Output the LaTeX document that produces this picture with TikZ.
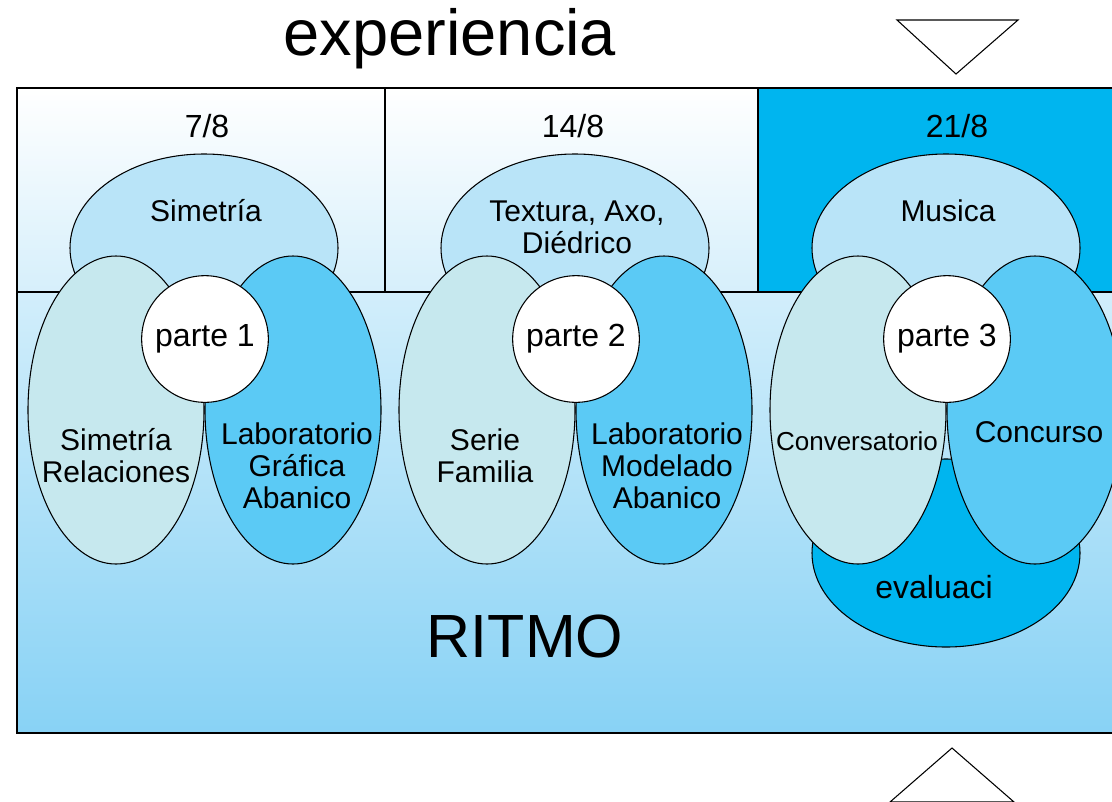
\documentclass[tikz,border=0pt]{standalone}
\usepackage{fontspec}
\setmainfont{Liberation Sans}
\usepackage{xcolor}
\usepackage{tikz}
\usetikzlibrary{positioning, shapes.geometric}

\definecolor{cellbot}{HTML}{D6EFFB}
\definecolor{basetop}{HTML}{D2EEFB}
\definecolor{basebot}{HTML}{88D2F5}
\definecolor{temafill}{HTML}{B9E4F8}
\definecolor{palefill}{HTML}{C6E8EE}
\definecolor{bluefill}{HTML}{5BCAF5}
\definecolor{deepblue}{HTML}{00B5EF}

\tikzset{
  oval/.style={draw, ellipse, line width=0.8pt, inner sep=0pt},
  temaoval/.style={oval, fill=temafill, minimum width=201pt, minimum height=141pt},
  ladooval/.style={oval, minimum width=132pt, minimum height=231pt},
  partecirc/.style={draw, circle, fill=white, line width=0.8pt, minimum size=95pt, inner sep=0pt,
    font=\fontsize{24}{26}\selectfont},
  lbl/.style={anchor=base, align=center, inner sep=0pt, font=\fontsize{22.5}{24}\selectfont},
}

\begin{document}
\begin{tikzpicture}[x=0.75pt, y=-0.75pt]
    \useasboundingbox (0,0) rectangle (1112,801);
    \clip (0,0) rectangle (1112,801);

    % Background
    \shade[top color=white, bottom color=cellbot] (17,88) rectangle (385,292);
    \shade[top color=white, bottom color=cellbot] (385,88) rectangle (758,292);
    \fill[deepblue] (758,88) rectangle (1130,292);
    \shade[top color=basetop, bottom color=basebot] (17,292) rectangle (1130,733);
    \draw[line width=1.1pt] (17,88) rectangle (1130,733);
    \draw[line width=0.8pt] (17,292) -- (1130,292);
    \draw[line width=0.8pt] (385,88) -- (385,292);
    \draw[line width=0.8pt] (758,88) -- (758,292);

    % Semana 1
    \node[temaoval] (tema1) at (204,248) {};
    \node[ladooval, fill=palefill] (izq1) at (116,410) {};
    \node[ladooval, fill=bluefill] (der1) at (293,410) {};
    \node[partecirc] (parte1) at (205,339) {parte 1};

    % Semana 2
    \node[temaoval] (tema2) at (575,248) {};
    \node[ladooval, fill=palefill] (izq2) at (487,410) {};
    \node[ladooval, fill=bluefill] (der2) at (664,410) {};
    \node[partecirc] (parte2) at (576,339) {parte 2};

    % Semana 3
    \node[temaoval] (tema3) at (946,248) {};
    \node[temaoval, fill=deepblue] (eval3) at (946,553) {};
    \node[ladooval, fill=palefill] (izq3) at (858,410) {};
    \node[ladooval, fill=bluefill] (der3) at (1035,410) {};
    \node[partecirc] (parte3) at (947,339) {parte 3};

    % Labels (base = last line)
    \node[lbl, font=\fontsize{24}{26}\selectfont] (fecha1) at (207,137) {7/8};
    \node[lbl, font=\fontsize{24}{26}\selectfont] (fecha2) at (573,137) {14/8};
    \node[lbl, font=\fontsize{24}{26}\selectfont] (fecha3) at (957,137) {21/8};
    \node[lbl] (txt1) at (206,221) {Simetría};
    \node[lbl] (txt2) at (577,253) {Textura, Axo,\\Diédrico};
    \node[lbl] (txt3) at (948,221) {Musica};
    \node[lbl] (izqtxt1) at (116,482) {Simetría\\Relaciones};
    \node[lbl] (dertxt1) at (297,508) {Laboratorio\\Gráfica\\Abanico};
    \node[lbl] (izqtxt2) at (485,482) {Serie\\Familia};
    \node[lbl] (dertxt2) at (667,508) {Laboratorio\\Modelado\\Abanico};
    \node[lbl, font=\fontsize{19.5}{22}\selectfont] (izqtxt3) at (857,450) {Conversatorio};
    \node[lbl] (dertxt3) at (1039,442) {Concurso};
    \node[lbl, font=\fontsize{24}{26}\selectfont] (evaltxt) at (934,598) {evaluaci};

    \node[lbl, font=\fontsize{48.75}{52}\selectfont] (titulo) at (450,55) {experiencia};
    \node[lbl, font=\fontsize{45.75}{50}\selectfont] (ritmo) at (525,657) {RITMO};

    % Triangles
    \draw[line width=0.8pt] (897,20) -- (1018,20) -- (956,74) -- cycle;
    \draw[line width=0.8pt] (952,748) -- (890,802) -- (1014,802) -- cycle;
\end{tikzpicture}
\end{document}
